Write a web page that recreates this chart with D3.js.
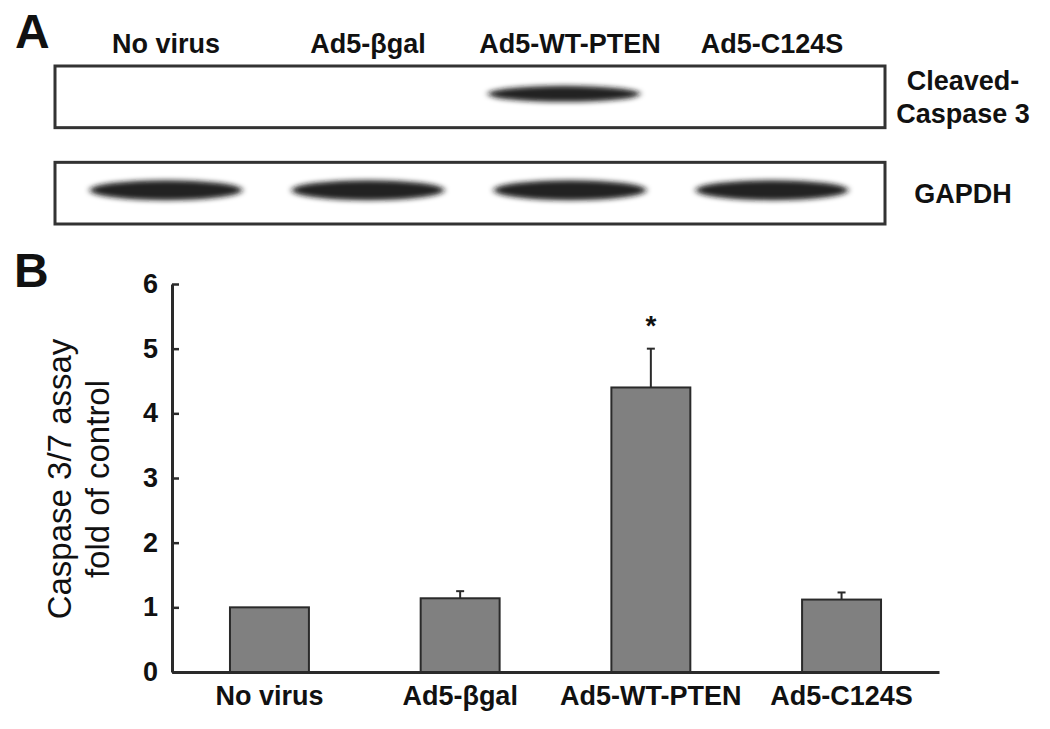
<!DOCTYPE html>
<html>
<head>
<meta charset="utf-8">
<script src="https://cdn.jsdelivr.net/npm/d3@7"></script>
<style>
  html, body { margin: 0; padding: 0; background: #fff; }
  svg { display: block; }
  text { font-family: "Liberation Sans", Arial, sans-serif; fill: #111; }
</style>
</head>
<body>
<svg id="chart" width="1050" height="729"></svg>
<script>
// ---- Data ----
const lanes = ["No virus", "Ad5-βgal", "Ad5-WT-PTEN", "Ad5-C124S"];
const cleavedCaspase3 = [0, 0, 1, 0];     // relative band intensity
const gapdh = [1, 1, 1, 1];               // relative band intensity
const blotRows = ["Cleaved-\nCaspase 3", "GAPDH"];
const caspaseFold = [1.00, 1.14, 4.40, 1.12];
const caspaseErr = [0.00, 0.11, 0.60, 0.11];
const significant = [false, false, true, false];
const yTicks = [0, 1, 2, 3, 4, 5, 6];
const yTitle = ["Caspase 3/7 assay", "fold of control"];

// ---- Setup ----
const svg = d3.select("#chart");
const defs = svg.append("defs");
defs.append("filter").attr("id", "blur").attr("x", "-30%").attr("y", "-80%")
  .attr("width", "160%").attr("height", "260%")
  .append("feGaussianBlur").attr("stdDeviation", "3.2 2.6");

const ink = "#2a2a2a";

// Panel letters
svg.append("text").attr("x", 15).attr("y", 48).attr("font-size", 48)
  .attr("font-weight", "bold").text("A");
svg.append("text").attr("x", 14).attr("y", 287).attr("font-size", 48)
  .attr("font-weight", "bold").text("B");

// ---- Panel A: western blot ----
const laneX = d3.scalePoint().domain(lanes).range([166, 772]);
const blotBoxX = [55, 885];
const rowY = d3.scaleBand().domain(blotRows).range([66, 224]).paddingInner(0.36);

svg.append("g").selectAll("text").data(lanes).join("text")
  .attr("x", d => laneX(d)).attr("y", 53)
  .attr("text-anchor", "middle").attr("font-size", 27).attr("font-weight", "bold")
  .text(d => d);

const rows = [cleavedCaspase3, gapdh];
blotRows.forEach((r, i) => {
  const g = svg.append("g");
  const y0 = rowY(r), h = rowY.bandwidth();
  // bands
  g.append("g").attr("filter", "url(#blur)").selectAll("ellipse")
    .data(lanes.map((l, j) => ({ l, v: rows[i][j] })).filter(d => d.v > 0))
    .join("ellipse")
    .attr("cx", d => laneX(d.l) + (i === 0 ? -6 : 0))
    .attr("cy", y0 + h / 2 - 3 + (i === 1 ? 0 : 0))
    .attr("rx", 76).attr("ry", i === 0 ? 8 : 10)
    .attr("fill", "#141414")
    .attr("fill-opacity", d => 0.95 * d.v);
  // frame
  g.append("rect").attr("x", blotBoxX[0]).attr("y", y0)
    .attr("width", blotBoxX[1] - blotBoxX[0]).attr("height", h)
    .attr("fill", "none").attr("stroke", "#333").attr("stroke-width", 3);
  // row label
  const lines = r.split("\n");
  const lab = g.append("text").attr("text-anchor", "middle")
    .attr("font-size", 27).attr("font-weight", "bold");
  const cy = y0 + h / 2;
  const lh = 33;
  lines.forEach((t, k) => {
    lab.append("tspan").attr("x", 963)
      .attr("y", cy + 10 + (k - (lines.length - 1) / 2) * lh).text(t);
  });
});

// ---- Panel B: bar chart ----
const plot = { left: 172, right: 939, top: 284, bottom: 672 };
const x = d3.scaleBand().domain(lanes).range([plot.left, plot.right])
  .paddingInner(0.586).paddingOuter(0.304);
const y = d3.scaleLinear().domain([0, 6]).range([plot.bottom, plot.top]);

// bars
svg.append("g").selectAll("rect").data(lanes).join("rect")
  .attr("x", d => x(d)).attr("width", x.bandwidth())
  .attr("y", (d, i) => y(caspaseFold[i]))
  .attr("height", (d, i) => y(0) - y(caspaseFold[i]))
  .attr("fill", "#808080").attr("stroke", ink).attr("stroke-width", 2);

// error bars
const eb = svg.append("g").attr("stroke", ink).attr("stroke-width", 2);
lanes.forEach((d, i) => {
  if (caspaseErr[i] <= 0) return;
  const cx = x(d) + x.bandwidth() / 2;
  eb.append("line").attr("x1", cx).attr("x2", cx)
    .attr("y1", y(caspaseFold[i])).attr("y2", y(caspaseFold[i] + caspaseErr[i]));
  eb.append("line").attr("x1", cx - 4).attr("x2", cx + 4)
    .attr("y1", y(caspaseFold[i] + caspaseErr[i])).attr("y2", y(caspaseFold[i] + caspaseErr[i]));
});

// significance
svg.append("g").selectAll("text").data(lanes.filter((d, i) => significant[i])).join("text")
  .attr("x", d => x(d) + x.bandwidth() / 2)
  .attr("y", d => { const i = lanes.indexOf(d); return y(caspaseFold[i] + caspaseErr[i]) - 14; })
  .attr("text-anchor", "middle").attr("font-size", 28).attr("font-weight", "bold")
  .text("*");

// y axis
const yAxis = svg.append("g").attr("transform", `translate(${plot.left},0)`)
  .call(d3.axisLeft(y).tickValues(yTicks).tickFormat(d3.format("d"))
    .tickSizeInner(-7).tickSizeOuter(0).tickPadding(14));
yAxis.select(".domain").attr("stroke", ink).attr("stroke-width", 3);
yAxis.selectAll(".tick line").attr("stroke", ink).attr("stroke-width", 2.5);
yAxis.selectAll(".tick text").attr("font-size", 27).attr("font-weight", "bold")
  .attr("font-family", "Liberation Sans, Arial, sans-serif").attr("fill", "#111");

// x axis
const xAxis = svg.append("g").attr("transform", `translate(0,${plot.bottom})`)
  .call(d3.axisBottom(x).tickSize(0).tickPadding(14));
xAxis.select(".domain").attr("stroke", ink).attr("stroke-width", 3);
xAxis.selectAll(".tick text").attr("font-size", 27).attr("font-weight", "bold")
  .attr("font-family", "Liberation Sans, Arial, sans-serif").attr("fill", "#111");

// y title
const yt = svg.append("text").attr("transform", `translate(0,${(plot.top + plot.bottom) / 2 + 1}) rotate(-90)`)
  .attr("text-anchor", "middle").attr("font-size", 33);
yTitle.forEach((t, k) => {
  yt.append("tspan").attr("x", 0).attr("y", 71 + k * 38).text(t);
});
</script>
</body>
</html>
